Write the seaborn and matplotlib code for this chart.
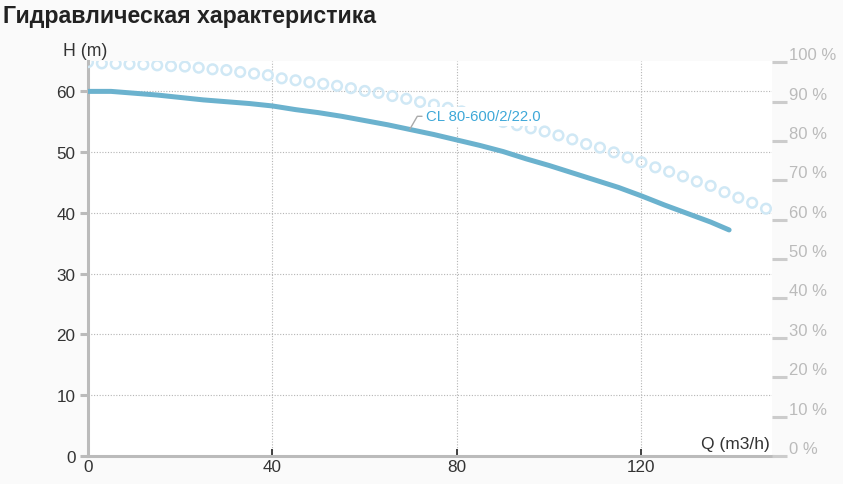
import numpy as np
import pandas as pd
import matplotlib
matplotlib.use("Agg")
import matplotlib.pyplot as plt
import seaborn as sns

# courbe H(Q) de la pompe
q_head = [0, 5, 10, 15, 20, 25, 30, 35, 40, 45, 50, 55, 60, 65, 70, 75, 80,
          85, 90, 95, 100, 105, 110, 115, 120, 125, 130, 135, 139]
head = [60.0, 60.0, 59.7, 59.4, 59.0, 58.6, 58.3, 58.0, 57.6, 57.0, 56.5, 55.9,
        55.2, 54.5, 53.7, 52.9, 52.0, 51.1, 50.1, 48.9, 47.8, 46.6, 45.4, 44.2,
        42.8, 41.3, 39.9, 38.5, 37.2]

# rendement (%) - cercles
q_eff = [0, 3, 6, 9, 12, 15, 18, 21, 24, 27, 30, 33, 36, 39, 42, 45, 48, 51,
         54, 57, 60, 63, 66, 69, 72, 75, 78, 81, 84, 87, 90, 93, 96, 99, 102,
         105, 108, 111, 114, 117, 120, 123, 126, 129, 132, 135, 138, 141, 144, 147]
eff = [100.0, 99.7, 99.6, 99.5, 99.4, 99.2, 99.0, 98.9, 98.6, 98.2, 98.0, 97.5,
       97.1, 96.7, 95.9, 95.4, 94.9, 94.5, 94.0, 93.4, 92.7, 92.2, 91.4, 90.7,
       89.9, 89.2, 88.4, 87.5, 86.7, 85.8, 84.8, 84.0, 83.2, 82.4, 81.4, 80.4,
       79.2, 78.3, 77.1, 75.8, 74.6, 73.3, 72.2, 71.0, 69.7, 68.6, 67.0, 65.6,
       64.3, 62.8]

x_ticks = [0, 40, 80, 120]
h_ticks = [0, 10, 20, 30, 40, 50, 60]
eff_ticks = [0, 10, 20, 30, 40, 50, 60, 70, 80, 90, 100]
pump_name = "CL 80-600/2/22.0"

df_h = pd.DataFrame({"Q": q_head, "H": head})
df_e = pd.DataFrame({"Q": q_eff, "eta": eff})

sns.set_theme(style="white")
plt.rcParams['font.family'] = ['Liberation Sans', 'DejaVu Sans']

fig = plt.figure(figsize=(8.43, 4.85), dpi=100, facecolor="#fafafa")
ax = fig.add_axes([88/843, 1-457/485, (772-88)/843, (457-62)/485])
ax.set_facecolor("white")
ax2 = ax.twinx()

sns.scatterplot(data=df_e, x="Q", y="eta", ax=ax2, marker="o", s=48,
                facecolors="none", edgecolor="#d0e8f5", linewidth=1.8, zorder=2)
sns.lineplot(data=df_h, x="Q", y="H", ax=ax, color="#6bb2ce", lw=3.6, zorder=3)

ax.set_xlim(0, 148.3)
ax.set_ylim(0, 65)
ax2.set_ylim(0, 100.3)

ax.set_xticks(x_ticks)
ax.set_yticks(h_ticks)
ax2.set_yticks(eff_ticks)
ax2.set_yticklabels([f"{t} %" for t in eff_ticks])
for lab in ax2.get_yticklabels():
    lab.set_va("bottom")

ax.grid(True, color="#b5b5b5", linestyle=(0, (1, 1.5)), lw=0.8)
ax.set_axisbelow(True)
ax.set_xlabel("")
ax.set_ylabel("")
ax2.set_ylabel("")

for s in ["top", "right"]:
    ax.spines[s].set_visible(False)
for s in ["top", "right", "left", "bottom"]:
    ax2.spines[s].set_visible(False)
ax.spines["left"].set_color("#bbbbbb")
ax.spines["left"].set_linewidth(2.2)
ax.spines["bottom"].set_color("#bbbbbb")
ax.spines["bottom"].set_linewidth(2.2)

ax.tick_params(axis="y", direction="out", length=6, width=2.2, color="#bbbbbb",
               labelsize=12.3, labelcolor="#333333", pad=3, left=True)
ax.tick_params(axis="x", direction="in", length=5, width=1.3, color="#333333",
               labelsize=12.3, labelcolor="#333333", pad=2, bottom=True)
ax2.tick_params(axis="y", direction="out", length=11, width=2.2, color="#cccccc",
                labelsize=12, labelcolor="#bbbbbb", pad=1, right=True)

fig.text(0.004, 1-16/485, "Гидравлическая характеристика", fontsize=16.7,
         fontweight="bold", color="#222222", va="center", ha="left")
fig.text(63/843, 1-52/485, "H (m)", fontsize=12.7, color="#333333",
         va="center", ha="left")
fig.text(770/843, 1-445/485, "Q (m3/h)", fontsize=12.5, color="#333333",
         va="center", ha="right")

# etiquette sur ax2 pour masquer les cercles derriere
ax2.annotate(pump_name, xy=(69.8, 53.8), xytext=(73.2, 55.9),
             xycoords=ax.transData, textcoords=ax.transData, fontsize=10.7,
             color="#3ea8d8", va="center", ha="left", zorder=4,
             bbox=dict(boxstyle="square,pad=0.15", fc="white", ec="none"),
             arrowprops=dict(arrowstyle="-", color="#aaaaaa", lw=1,
                             connectionstyle="angle,angleA=0,angleB=60",
                             relpos=(0, 0.5), shrinkA=1, shrinkB=0))

fig.savefig("out.png", dpi=100, facecolor=fig.get_facecolor())
